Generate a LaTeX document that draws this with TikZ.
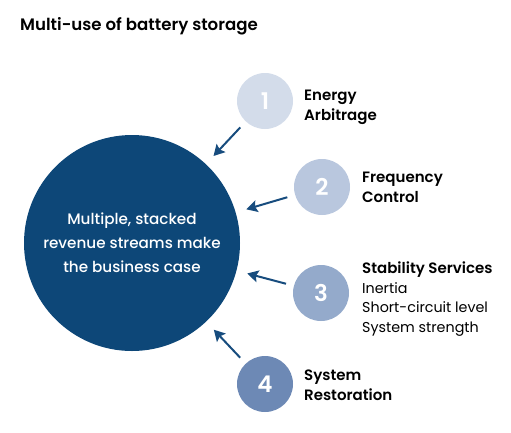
\documentclass[tikz,border=0pt]{standalone}
\usepackage{fontspec}
\setmainfont{Poppins}
\newfontfamily\popmed{Poppins Medium}
\newfontfamily\popsemi{Poppins SemiBold}
\usetikzlibrary{arrows.meta}
\definecolor{navy}{HTML}{0D4778}
\definecolor{arrowblue}{HTML}{174C7E}
\definecolor{stepA}{HTML}{D3DCEA}
\definecolor{stepB}{HTML}{B9C7DE}
\definecolor{stepC}{HTML}{94AACB}
\definecolor{stepD}{HTML}{6D89B5}
\begin{document}
\begin{tikzpicture}[
  x=1pt, y=-1pt,
  hub/.style={circle, fill=navy, minimum size=216pt, inner sep=0pt,
              text=white, align=center, font=\fontsize{15.2}{24}\selectfont\popmed},
  num/.style={circle, minimum size=56pt, inner sep=0pt, text=white,
              font=\fontsize{23}{23}\selectfont\popsemi},
  lbl/.style={anchor=base west, align=left, inner sep=0pt,
              font=\fontsize{14.3}{19.5}\selectfont},
  head/.style={font=\fontsize{15}{19.5}\selectfont\popsemi},
  arr/.style={-{Stealth[length=11pt,width=12pt,inset=2pt]}, line width=2pt,
              arrowblue, shorten <=8pt, shorten >=11pt}
]
  \useasboundingbox (0,0) rectangle (511,432);

  % Title
  \node[anchor=base west, inner sep=0pt, font=\fontsize{16.6}{16}\selectfont\popsemi]
    (title) at (20,30) {Multi-use of battery storage};

  % Hub
  \node[hub] (hub) at (132,243) {Multiple, stacked\\revenue streams make\\the business case};

  % Numbered circles
  \foreach \i/\x/\y/\c in {1/265/101/stepA, 2/322/187/stepB, 3/321/293/stepC, 4/265/384/stepD} {
    \node[num, fill=\c] (n\i) at (\x,\y) {\i};
    \draw[arr] (n\i) -- (hub);
  }

  % Labels (anchored on the last line)
  \node[lbl, head] (l1) at (304,120) {Energy\\Arbitrage};
  \node[lbl, head] (l2) at (362,202) {Frequency\\Control};
  \node[lbl] (l3) at (362,332) {{\fontsize{15}{19.5}\selectfont\popsemi Stability Services}\\Inertia\\Short-circuit level\\System strength};
  \node[lbl, head] (l4) at (304,400) {System\\Restoration};
\end{tikzpicture}
\end{document}
